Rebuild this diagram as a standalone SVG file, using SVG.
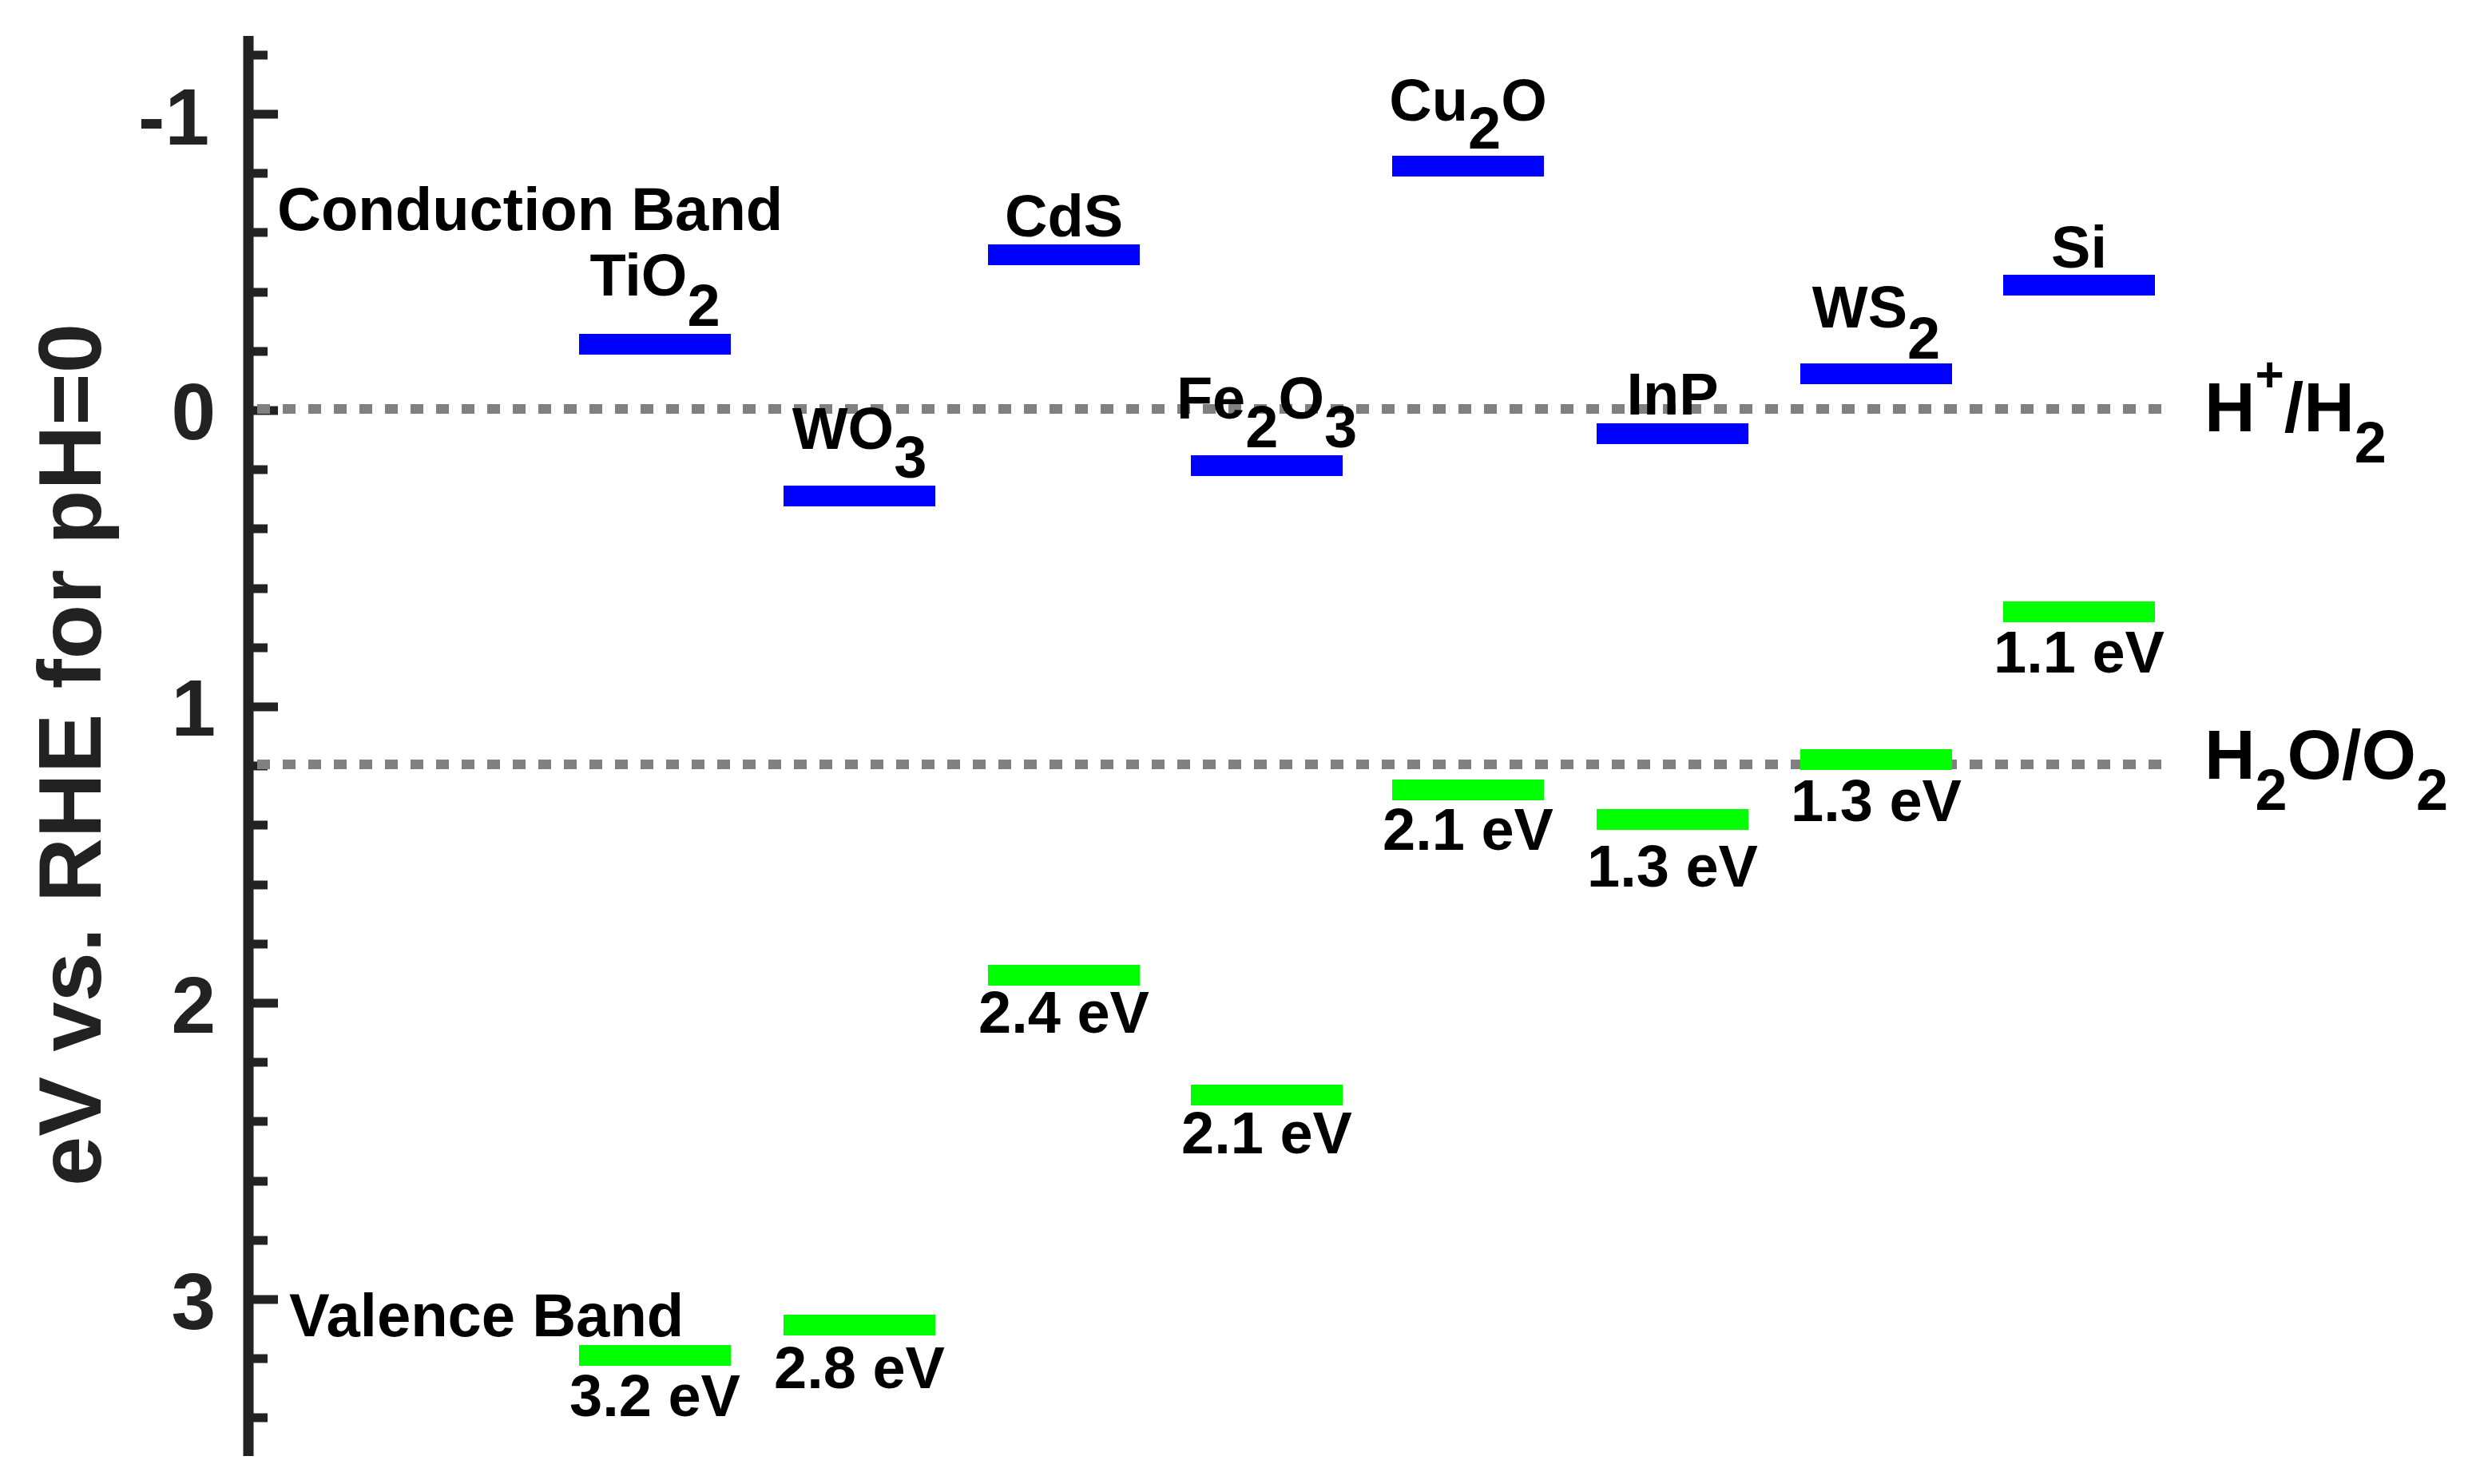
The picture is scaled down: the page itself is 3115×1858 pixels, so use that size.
<svg xmlns="http://www.w3.org/2000/svg" width="3115" height="1858" viewBox="0 0 3115 1858">
<style>
text{font-family:"Liberation Sans",Arial,sans-serif;font-weight:bold;fill:#000}
.lab{font-size:74px;text-anchor:middle}
.tick{font-size:100px;text-anchor:end;fill:#222}
.cb{fill:#0000ff}.vb{fill:#00ff00}
.ref{stroke:#808080;stroke-width:12;stroke-dasharray:16 16;fill:none}
.ax{stroke:#222;fill:none}
</style>
<rect width="3115" height="1858" fill="#fff"/>
<g id="axis">
<line class="ax" x1="311" y1="45" x2="311" y2="1823" stroke-width="13"/>
<path class="ax" stroke-width="11" d="M311 69h24M311 143h37M311 217h24M311 291h24M311 366h24M311 440h24M311 514h37M311 588h24M311 662h24M311 737h24M311 811h24M311 885h37M311 959h24M311 1033h24M311 1108h24M311 1182h24M311 1256h37M311 1330h24M311 1404h24M311 1479h24M311 1553h24M311 1627h37M311 1701h24M311 1775h24"/>
<text class="tick" x="262" y="181">-1</text>
<text class="tick" x="270" y="550">0</text>
<text class="tick" x="270" y="921">1</text>
<text class="tick" x="270" y="1293">2</text>
<text class="tick" x="270" y="1664">3</text>
<text transform="translate(126,945) rotate(-90)" style="font-size:112px;text-anchor:middle;fill:#222">eV vs. RHE for pH=0</text>
</g>
<g id="connectors">
<line class="ref" x1="322" y1="512" x2="2715" y2="512"/>
<line class="ref" x1="322" y1="957" x2="2715" y2="957"/>
</g>
<g id="refs">
<text x="2760" y="540" style="font-size:88px">H<tspan dy="-50" style="font-size:62px">+</tspan><tspan dy="50">/H</tspan><tspan dy="39" style="font-size:72px">2</tspan></text>
<text x="2760" y="975" style="font-size:88px">H<tspan dy="39" style="font-size:72px">2</tspan><tspan dy="-39">O/O</tspan><tspan dy="39" style="font-size:72px">2</tspan></text>
<text x="347" y="288" style="font-size:76px">Conduction Band</text>
<text x="362" y="1673" style="font-size:76px">Valence Band</text>
</g>
<g id="TiO2"><rect class="cb" x="725" y="418" width="190" height="26"/><rect class="vb" x="725" y="1684" width="190" height="26"/>
<text class="lab" x="820" y="370">TiO<tspan dy="38">2</tspan></text><text class="lab" x="820" y="1773">3.2 eV</text></g>
<g id="WO3"><rect class="cb" x="981" y="608" width="190" height="26"/><rect class="vb" x="981" y="1646" width="190" height="26"/>
<text class="lab" x="1076" y="562">WO<tspan dy="36">3</tspan></text><text class="lab" x="1076" y="1738">2.8 eV</text></g>
<g id="CdS"><rect class="cb" x="1237" y="306" width="190" height="26"/><rect class="vb" x="1237" y="1208" width="190" height="26"/>
<text class="lab" x="1332" y="296">CdS</text><text class="lab" x="1332" y="1293">2.4 eV</text></g>
<g id="Fe2O3"><rect class="cb" x="1491" y="570" width="190" height="26"/><rect class="vb" x="1491" y="1358" width="190" height="26"/>
<text class="lab" x="1586" y="524">Fe<tspan dy="36">2</tspan><tspan dy="-36">O</tspan><tspan dy="36">3</tspan></text><text class="lab" x="1586" y="1444">2.1 eV</text></g>
<g id="Cu2O"><rect class="cb" x="1743" y="195" width="190" height="26"/><rect class="vb" x="1743" y="976" width="190" height="26"/>
<text class="lab" x="1838" y="151">Cu<tspan dy="35">2</tspan><tspan dy="-35">O</tspan></text><text class="lab" x="1838" y="1064">2.1 eV</text></g>
<g id="InP"><rect class="cb" x="1999" y="530" width="190" height="26"/><rect class="vb" x="1999" y="1013" width="190" height="26"/>
<text class="lab" x="2094" y="519">InP</text><text class="lab" x="2094" y="1110">1.3 eV</text></g>
<g id="WS2"><rect class="cb" x="2254" y="455" width="190" height="26"/><rect class="vb" x="2254" y="938" width="190" height="26"/>
<text class="lab" x="2349" y="410">WS<tspan dy="39">2</tspan></text><text class="lab" x="2349" y="1028">1.3 eV</text></g>
<g id="Si"><rect class="cb" x="2508" y="344" width="190" height="26"/><rect class="vb" x="2508" y="753" width="190" height="26"/>
<text class="lab" x="2603" y="335">Si</text><text class="lab" x="2603" y="842">1.1 eV</text></g>
</svg>
